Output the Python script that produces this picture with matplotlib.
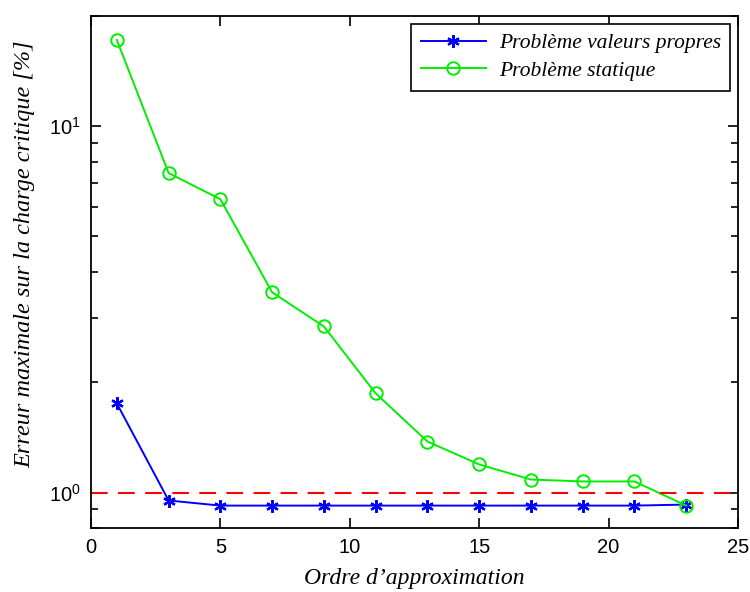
import matplotlib
matplotlib.use("Agg")
import matplotlib.pyplot as plt
from matplotlib.ticker import LogLocator, LogFormatterSciNotation, NullFormatter

plt.rcParams['mathtext.fontset'] = 'custom'
plt.rcParams['mathtext.rm'] = 'Liberation Sans'
plt.rcParams['mathtext.it'] = 'Liberation Sans'

orders = [1, 3, 5, 7, 9, 11, 13, 15, 17, 19, 21, 23]
err_valeurs_propres = [1.75, 0.951, 0.921, 0.921, 0.921, 0.921, 0.921, 0.921, 0.921, 0.921, 0.921, 0.927]
err_statique = [17.2, 7.45, 6.32, 3.52, 2.84, 1.865, 1.378, 1.193, 1.085, 1.072, 1.072, 0.921]
seuil = 1.0

fig = plt.figure(figsize=(7.5, 5.92), dpi=100)
ax = fig.add_axes([0.1213, 0.1081, 0.8627, 0.8649])

ax.plot(orders, err_valeurs_propres, color='#0000ff', marker=(6, 2, 0), markersize=9,
        markeredgewidth=1.6, linewidth=1.4, label='Problème valeurs propres')
ax.plot(orders, err_statique, color='#00ee00', marker='o', markersize=9,
        markerfacecolor='none', markeredgewidth=1.4, linewidth=1.4, label='Problème statique')
ax.axhline(seuil, color='#ff0000', linestyle=(0, (8, 5)), linewidth=1.5)

ax.set_yscale('log')
ax.set_xlim(0, 25)
ax.set_ylim(0.8, 20)
ax.set_xticks([0, 5, 10, 15, 20, 25])
ax.yaxis.set_major_locator(LogLocator(base=10, numticks=10))
ax.yaxis.set_major_formatter(LogFormatterSciNotation())
ax.yaxis.set_minor_locator(LogLocator(base=10, subs=range(2, 10), numticks=10))
ax.yaxis.set_minor_formatter(NullFormatter())

ax.tick_params(which='both', direction='in', top=True, right=True, width=1.2)
ax.tick_params(which='major', length=7, labelsize=14.5, pad=7)
ax.tick_params(which='minor', length=5)
for lab in ax.get_xticklabels() + ax.get_yticklabels():
    lab.set_fontfamily('Liberation Sans')
for sp in ax.spines.values():
    sp.set_linewidth(1.3)

ax.set_xlabel("Ordre d’approximation", fontfamily='Liberation Serif', style='italic', fontsize=17, va='center')
ax.xaxis.set_label_coords(0.5, -0.098)
ax.set_ylabel("Erreur maximale sur la charge critique [%]", fontfamily='Liberation Serif', style='italic', fontsize=17.5, va='center')
ax.yaxis.set_label_coords(-0.102, 0.535)

leg = ax.legend(loc='upper right', prop={'family': 'Liberation Serif', 'style': 'italic', 'size': 15.5},
                fancybox=False, framealpha=1, edgecolor='black', borderaxespad=0.35,
                handlelength=3.0, borderpad=0.45, labelspacing=0.35, handletextpad=0.6)
leg.get_frame().set_linewidth(1.2)

fig.savefig('out.png', dpi=100)
